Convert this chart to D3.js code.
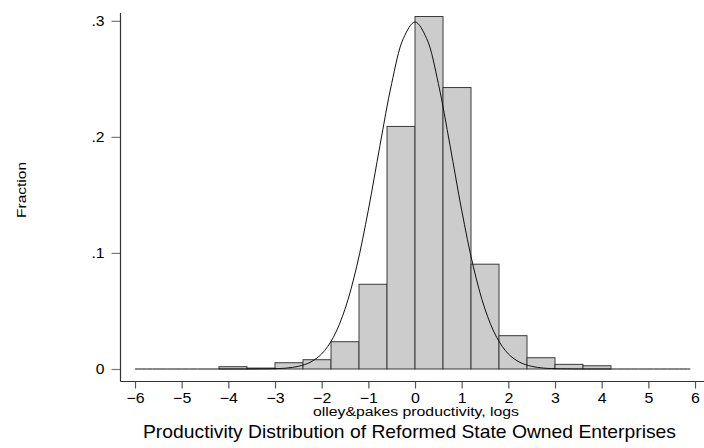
<!DOCTYPE html>
<html>
<head>
<meta charset="utf-8">
<script src="https://cdn.jsdelivr.net/npm/d3@7"></script>
<style>
  html, body { margin: 0; padding: 0; background: #fff; }
  svg { display: block; font-family: "Liberation Sans", Arial, Helvetica, sans-serif; }
</style>
</head>
<body>
<svg id="chart" width="704" height="448"></svg>
<script>
// ---- data ----
const binStarts = [-4.2, -3.6, -3.0, -2.4, -1.8, -1.2, -0.6, 0.0, 0.6, 1.2, 1.8, 2.4, 3.0, 3.6];
const binWidth = 0.6;
const fractions = [0.002, 0.0008, 0.0054, 0.008, 0.0235, 0.073, 0.209, 0.3037, 0.2425, 0.0903, 0.0287, 0.0097, 0.004, 0.0028];
const curveX = [-6, -4, -3.5, -3, -2.75, -2.5, -2.25, -2, -1.75, -1.5, -1.25, -1, -0.75, -0.5, -0.25, 0, 0.25, 0.5, 0.75, 1, 1.25, 1.5, 1.75, 2, 2.25, 2.5, 2.75, 3, 3.5, 4, 5.9];
const curveY = [0, 0, 0.00002, 0.0003, 0.0008, 0.0023, 0.0057, 0.013, 0.0273, 0.0516, 0.0882, 0.1369, 0.1927, 0.246, 0.2847, 0.299, 0.2847, 0.246, 0.1927, 0.1369, 0.0882, 0.0516, 0.0273, 0.013, 0.0057, 0.0023, 0.0008, 0.0003, 0.00002, 0, 0];
const xTicks = [-6, -5, -4, -3, -2, -1, 0, 1, 2, 3, 4, 5, 6];
const yTicks = [0, 0.1, 0.2, 0.3];
const yTickLabels = ["0", ".1", ".2", ".3"];
const yTitle = "Fraction";
const xTitle = "olley&pakes productivity, logs";
const chartTitle = "Productivity Distribution of Reformed State Owned Enterprises";

// ---- layout ----
const svg = d3.select("#chart");
const x = d3.scaleLinear().domain([-6, 6]).range([135, 695]);
const y = d3.scaleLinear().domain([0, 0.3]).range([369, 20.8]);
const axisX = 120.5, axisY = 381.5;

function widen(sel, f) {
  sel.each(function () {
    const w = this.getComputedTextLength();
    d3.select(this).attr("textLength", w * f).attr("lengthAdjust", "spacingAndGlyphs");
  });
}

// bars
svg.append("g").selectAll("rect").data(binStarts).join("rect")
  .attr("x", (d) => x(d))
  .attr("width", (d) => x(d + binWidth) - x(d))
  .attr("y", (d, i) => y(fractions[i]))
  .attr("height", (d, i) => y(0) - y(fractions[i]))
  .attr("fill", "#cccccc")
  .attr("stroke", "#3a3a3a")
  .attr("stroke-width", 1);

// normal curve
const line = d3.line()
  .x((d, i) => x(curveX[i]))
  .y((d) => y(d))
  .curve(d3.curveCatmullRom.alpha(0.5));
svg.append("path")
  .datum(curveY)
  .attr("d", line)
  .attr("fill", "none")
  .attr("stroke", "#111")
  .attr("stroke-width", 1);

// y axis
const gy = svg.append("g").attr("transform", `translate(${axisX},0)`)
  .call(d3.axisLeft(y).tickValues(yTicks).tickFormat((d, i) => yTickLabels[i]).tickSize(9).tickPadding(7).tickSizeOuter(0));
gy.select(".domain").remove();
gy.selectAll(".tick line").attr("stroke", "#777").attr("stroke-width", 1.2);
gy.selectAll(".tick text").attr("font-size", 14.5).attr("fill", "#000").attr("font-family", "Liberation Sans, Arial, sans-serif");
widen(gy.selectAll(".tick text"), 1.08);
svg.append("line").attr("x1", axisX).attr("x2", axisX).attr("y1", 13).attr("y2", axisY)
  .attr("stroke", "#333").attr("stroke-width", 1.2);

// x axis
const gx = svg.append("g").attr("transform", `translate(0,${axisY})`)
  .call(d3.axisBottom(x).tickValues(xTicks).tickFormat((d) => d < 0 ? "\u2212" + Math.abs(d) : String(d)).tickSize(7).tickPadding(4).tickSizeOuter(0));
gx.select(".domain").remove();
gx.selectAll(".tick line").attr("stroke", "#555").attr("stroke-width", 1.2);
gx.selectAll(".tick text").attr("font-size", 14.5).attr("fill", "#000").attr("font-family", "Liberation Sans, Arial, sans-serif");
widen(gx.selectAll(".tick text"), 1.1);
svg.append("line").attr("x1", axisX).attr("x2", 704).attr("y1", axisY).attr("y2", axisY)
  .attr("stroke", "#333").attr("stroke-width", 1.2);

// titles
svg.append("text").attr("transform", "translate(25.5,190) rotate(-90)")
  .attr("text-anchor", "middle").attr("font-size", 12.5)
  .attr("textLength", 56).attr("lengthAdjust", "spacingAndGlyphs").text(yTitle);
svg.append("text").attr("x", 416).attr("y", 416)
  .attr("text-anchor", "middle").attr("font-size", 12.5)
  .attr("textLength", 206).attr("lengthAdjust", "spacingAndGlyphs").text(xTitle);
svg.append("text").attr("x", 409.5).attr("y", 438)
  .attr("text-anchor", "middle").attr("font-size", 19)
  .attr("textLength", 533).attr("lengthAdjust", "spacingAndGlyphs").text(chartTitle);
</script>
</body>
</html>
